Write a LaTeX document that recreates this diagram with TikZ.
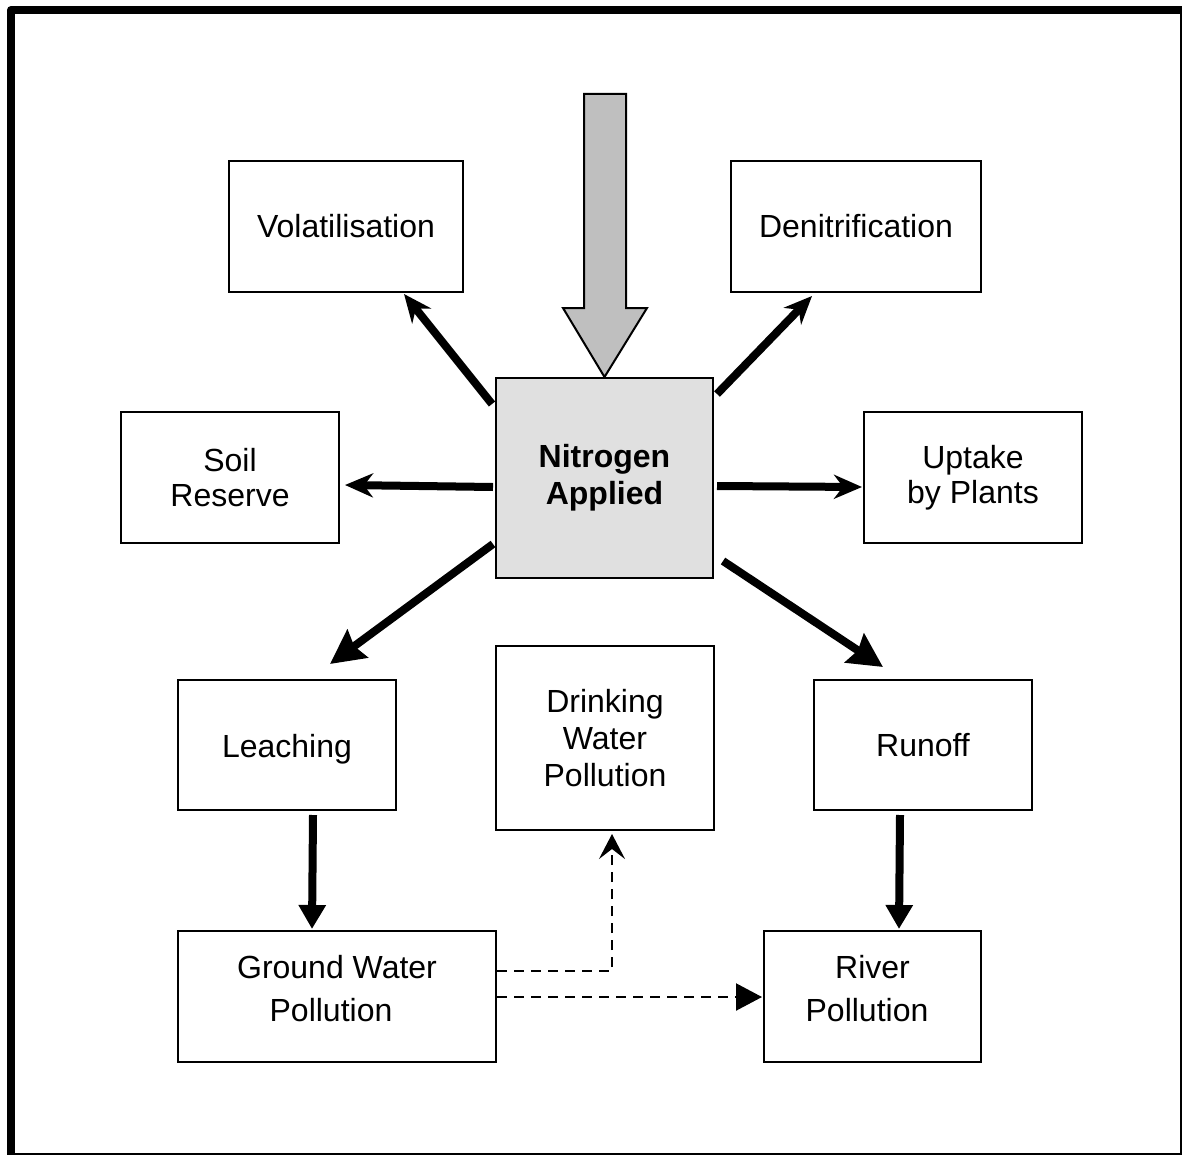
\documentclass[tikz,border=0pt]{standalone}
\usepackage{fontspec}
\setmainfont{Liberation Sans}
\usetikzlibrary{arrows.meta,calc}
\begin{document}
\begin{tikzpicture}[x=0.5pt,y=-0.5pt,
  box/.style={draw,line width=1pt,inner sep=0pt,align=center,
    font=\fontsize{16}{17.5}\selectfont},
  thick arrow/.style={line width=4pt},
  smallhead/.style={-{Stealth[length=14pt,width=12pt,inset=4.5pt]}},
  bighead/.style={-{Stealth[length=17pt,width=17pt,inset=2pt]}},
  vhead/.style={-{Triangle[length=12pt,width=13pt]}},
  dash line/.style={line width=1.1pt,dash pattern=on 5pt off 3.5pt}
]
\useasboundingbox (0,0) rectangle (1182,1155);
\clip (0,0) rectangle (1182,1155);
\draw[line width=4pt,line join=round] (11,10) rectangle (1184,1157);

\node[box,minimum width=117pt,minimum height=65.5pt] (vol) at (346,226.5) {Volatilisation};
\node[box,minimum width=125pt,minimum height=65.5pt] (den) at (856,226.5) {Denitrification};
\node[box,minimum width=109pt,minimum height=65.5pt] (soil) at (230,477.5) {Soil\\Reserve};
\node[box,minimum width=108.5pt,minimum height=100pt,fill=black!12,
  font=\fontsize{16}{18.5}\selectfont\bfseries] (nit) at (604.5,478) {Nitrogen\\Applied};
\node[box,minimum width=109pt,minimum height=65.5pt] (up) at (973,477.5) {Uptake\\by Plants};
\node[box,minimum width=109pt,minimum height=65pt] (leach) at (287,745) {\raisebox{-2pt}[\height][\depth]{Leaching}};
\node[box,minimum width=109pt,minimum height=92pt,
  font=\fontsize{16}{18.5}\selectfont] (dw) at (605,738) {Drinking\\Water\\Pollution};
\node[box,minimum width=109pt,minimum height=65pt] (run) at (923,745) {Runoff};
\node[box,minimum width=159pt,minimum height=65.5pt,
  font=\fontsize{16}{21.5}\selectfont] (gw) at (337,996.5) {\raisebox{2.5pt}[\height][\depth]{\begin{tabular}{@{}c@{}}Ground Water\\\hspace*{-6pt}Pollution\end{tabular}}};
\node[box,minimum width=108.5pt,minimum height=65.5pt,
  font=\fontsize{16}{21.5}\selectfont] (riv) at (872.5,996.5) {\raisebox{2.5pt}[\height][\depth]{\begin{tabular}{@{}c@{}}River\\\hspace*{-5.5pt}Pollution\end{tabular}}};

% big input arrow
\draw[line width=1pt,fill=black!25,line join=miter]
  (584,94) -- (626,94) -- (626,308) -- (647,308) -- (nit.north) -- (563,308) -- (584,308) -- cycle;

% thick arrows
\draw[thick arrow,smallhead] ($(nit.north west)+(-3,27)$) -- ($(vol.south west)+(176,1)$);
\draw[thick arrow,smallhead] ($(nit.north east)+(3,17)$) -- ($(den.south west)+(82,3)$);
\draw[thick arrow,smallhead] ($(nit.west)+(-2,9)$) -- ($(soil.east)+(5,7.5)$);
\draw[thick arrow,smallhead] ($(nit.east)+(3,8)$) -- ($(up.west)+(-1,9.5)$);
\draw[thick arrow,bighead] ($(nit.south west)+(-2,-35)$) -- ($(leach.north west)+(153,-15)$);
\draw[thick arrow,bighead] ($(nit.south east)+(9,-18)$) -- ($(run.north west)+(70,-12)$);
\draw[thick arrow,vhead] ($(leach.south)+(26,4)$) -- ($(gw.north west)+(135,-1)$);
\draw[thick arrow,vhead] ($(run.south)+(-23,4)$) -- ($(riv.north west)+(136,-1)$);

% dashed arrows
\draw[dash line,-{Stealth[length=12.5pt,width=13pt,inset=5pt]}]
  ($(gw.north east)+(0,41)$) -| ($(dw.south west)+(117,3)$);
\draw[dash line,-{Triangle[length=13pt,width=13.5pt]}]
  ($(gw.north east)+(0,67)$) -- ($(riv.north west)+(-1,67)$);
\end{tikzpicture}
\end{document}
